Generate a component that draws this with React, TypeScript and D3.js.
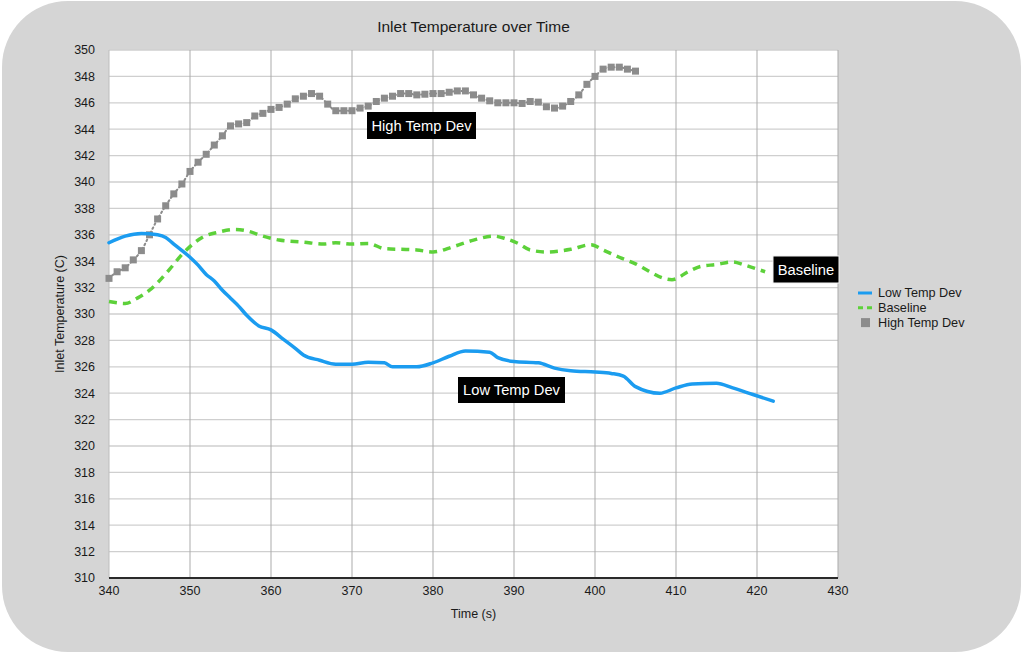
import React, { useEffect, useRef } from 'react';
import * as d3 from 'd3';

type Pt = [number, number];

const lowTempDev: Pt[] = [
  [340, 335.4], [342, 335.9], [344, 336.1], [346, 336.0], [347, 335.8], [348, 335.3],
  [350, 334.3], [351, 333.7], [352, 333.0], [353, 332.5], [354, 331.8], [355, 331.2],
  [356, 330.6], [357, 329.9], [358.5, 329.1], [360, 328.8], [361.5, 328.1], [363, 327.4],
  [364, 326.9], [366, 326.5], [368, 326.2], [370, 326.2], [372, 326.35], [374, 326.3],
  [375, 326.0], [378, 326.0], [380, 326.3], [382, 326.8], [384, 327.2], [387, 327.1],
  [388, 326.7], [390, 326.4], [393, 326.3], [395, 325.9], [397, 325.7], [400, 325.6],
  [402, 325.5], [403.5, 325.3], [405, 324.5], [408, 324.0], [410, 324.4], [412, 324.7],
  [415, 324.75], [417, 324.4], [419.5, 323.9], [422, 323.4]
];

const baseline: Pt[] = [
  [340, 330.95], [342, 330.8], [343.5, 331.2], [345, 331.8], [347.5, 333.4], [349, 334.5],
  [351.5, 335.8], [353.5, 336.2], [355.5, 336.4], [357, 336.3], [359, 335.9], [361, 335.6],
  [364, 335.45], [366.5, 335.3], [368, 335.4], [370, 335.3], [372, 335.35], [374, 334.95],
  [376, 334.9], [378, 334.85], [380, 334.7], [382.5, 335.1], [385, 335.6], [387.5, 335.9],
  [389, 335.7], [390.5, 335.35], [392, 334.85], [394, 334.7], [397, 334.9], [399.5, 335.25],
  [401, 334.85], [403, 334.3], [405, 333.8], [406.5, 333.3], [408.5, 332.7], [409.5, 332.6],
  [411.5, 333.2], [413, 333.6], [415, 333.75], [417, 333.95], [418.5, 333.7], [421, 333.2]
];

const highTempDev: Pt[] = [
  [340, 332.7], [341, 333.2], [342, 333.5], [343, 334.1], [344, 334.8], [345, 336.0],
  [346, 337.2], [347, 338.2], [348, 339.1], [349, 339.85], [350, 340.8], [351, 341.5],
  [352, 342.1], [353, 342.8], [354, 343.5], [355, 344.25], [356, 344.4], [357, 344.5],
  [358, 345.0], [359, 345.2], [360, 345.5], [361, 345.65], [362, 345.9], [363, 346.3],
  [364, 346.5], [365, 346.7], [366, 346.5], [367, 345.9], [368, 345.4], [369, 345.4],
  [370, 345.4], [371, 345.6], [372, 345.75], [373, 346.1], [374, 346.35], [375, 346.5],
  [376, 346.7], [377, 346.7], [378, 346.6], [379, 346.65], [380, 346.7], [381, 346.7],
  [382, 346.8], [383, 346.9], [384, 346.9], [385, 346.6], [386, 346.35], [387, 346.15],
  [388, 346.0], [389, 346.0], [390, 346.0], [391, 345.95], [392, 346.1], [393, 346.05],
  [394, 345.7], [395, 345.6], [396, 345.75], [397, 346.1], [398, 346.6], [399, 347.4],
  [400, 348.0], [401, 348.55], [402, 348.7], [403, 348.7], [404, 348.55], [405, 348.4]
];

const xTicks = [340, 350, 360, 370, 380, 390, 400, 410, 420, 430];
const yTicks = [310, 312, 314, 316, 318, 320, 322, 324, 326, 328, 330, 332, 334, 336, 338, 340, 342, 344, 346, 348, 350];

const legendItems = ['Low Temp Dev', 'Baseline', 'High Temp Dev'];

const BLUE = '#1b9cf0';
const GREEN = '#5dd13a';
const GREY = '#8c8c8c';
const FONT = 'Helvetica, "Liberation Sans", Arial, sans-serif';

const App: React.FC = () => {
  const svgRef = useRef<SVGSVGElement>(null);

  useEffect(() => {
    if (!svgRef.current) return;
    const svg = d3.select(svgRef.current);
    svg.selectAll('*').remove();

    const width = 1024;
    const height = 655;
    const left = 109, right = 838, top = 50, bottom = 578;

    const x = d3.scaleLinear().domain([340, 430]).range([left, right]);
    const y = d3.scaleLinear().domain([310, 350]).range([bottom, top]);

    // card background
    svg.append('rect')
      .attr('x', 2).attr('y', 1)
      .attr('width', width - 5).attr('height', height - 4)
      .attr('rx', 66).attr('ry', 66)
      .attr('fill', '#d5d5d5');

    // plot area
    svg.append('rect')
      .attr('x', left).attr('y', top)
      .attr('width', right - left).attr('height', bottom - top)
      .attr('fill', '#ffffff');

    // grid
    svg.append('g').selectAll('line')
      .data(yTicks.slice(1))
      .enter().append('line')
      .attr('x1', left).attr('x2', right)
      .attr('y1', d => y(d)).attr('y2', d => y(d))
      .attr('stroke', '#cfcfcf').attr('stroke-width', 1.3);

    svg.append('g').selectAll('line')
      .data(xTicks.slice(1))
      .enter().append('line')
      .attr('x1', d => x(d)).attr('x2', d => x(d))
      .attr('y1', top).attr('y2', bottom)
      .attr('stroke', '#ababab').attr('stroke-width', 1);

    svg.append('line')
      .attr('x1', left).attr('x2', left).attr('y1', top).attr('y2', bottom)
      .attr('stroke', '#bdbdbd').attr('stroke-width', 1);

    svg.append('line')
      .attr('x1', left).attr('x2', right).attr('y1', bottom).attr('y2', bottom)
      .attr('stroke', '#2a2a2a').attr('stroke-width', 2);

    // tick labels
    svg.append('g').selectAll('text')
      .data(yTicks)
      .enter().append('text')
      .attr('x', 95).attr('y', d => y(d))
      .attr('dy', '0.35em')
      .attr('text-anchor', 'end')
      .style('font-family', FONT).style('font-size', '12.5px').style('fill', '#1a1a1a')
      .text(d => d);

    svg.append('g').selectAll('text')
      .data(xTicks)
      .enter().append('text')
      .attr('x', d => x(d)).attr('y', 591)
      .attr('dy', '0.35em')
      .attr('text-anchor', 'middle')
      .style('font-family', FONT).style('font-size', '12.5px').style('fill', '#1a1a1a')
      .text(d => d);

    // titles
    svg.append('text')
      .attr('x', (left + right) / 2).attr('y', 27).attr('dy', '0.35em')
      .attr('text-anchor', 'middle')
      .style('font-family', FONT).style('font-size', '15.5px').style('fill', '#1a1a1a')
      .text('Inlet Temperature over Time');

    svg.append('text')
      .attr('x', (left + right) / 2).attr('y', 614).attr('dy', '0.35em')
      .attr('text-anchor', 'middle')
      .style('font-family', FONT).style('font-size', '12.5px').style('fill', '#1a1a1a')
      .text('Time (s)');

    svg.append('text')
      .attr('transform', `translate(60,${(top + bottom) / 2}) rotate(-90)`)
      .attr('dy', '0.35em')
      .attr('text-anchor', 'middle')
      .style('font-family', FONT).style('font-size', '12.5px').style('fill', '#1a1a1a')
      .text('Inlet Temperature (C)');

    const line = d3.line<Pt>()
      .x(d => x(d[0]))
      .y(d => y(d[1]))
      .curve(d3.curveMonotoneX);

    // high temp dev: dotted connector + square markers
    svg.append('path')
      .datum(highTempDev)
      .attr('d', line)
      .attr('fill', 'none')
      .attr('stroke', GREY)
      .attr('stroke-width', 2)
      .attr('stroke-dasharray', '1.5,3')
      .attr('stroke-linecap', 'round');

    svg.append('g').selectAll('rect')
      .data(highTempDev)
      .enter().append('rect')
      .attr('x', d => x(d[0]) - 3.5)
      .attr('y', d => y(d[1]) - 3.5)
      .attr('width', 7).attr('height', 7)
      .attr('fill', GREY);

    // baseline
    svg.append('path')
      .datum(baseline)
      .attr('d', line)
      .attr('fill', 'none')
      .attr('stroke', GREEN)
      .attr('stroke-width', 3.5)
      .attr('stroke-dasharray', '8,6');

    // low temp dev
    svg.append('path')
      .datum(lowTempDev)
      .attr('d', line)
      .attr('fill', 'none')
      .attr('stroke', BLUE)
      .attr('stroke-width', 3.5)
      .attr('stroke-linejoin', 'round')
      .attr('stroke-linecap', 'round');

    // annotation labels
    const notes = [
      { text: 'High Temp Dev', x: 367, y: 112, w: 109, h: 27, border: false },
      { text: 'Baseline', x: 773, y: 256, w: 66, h: 27, border: true },
      { text: 'Low Temp Dev', x: 458, y: 377, w: 107, h: 26, border: false }
    ];
    const noteG = svg.append('g').selectAll('g')
      .data(notes)
      .enter().append('g');
    noteG.append('rect')
      .attr('x', d => d.x).attr('y', d => d.y)
      .attr('width', d => d.w).attr('height', d => d.h)
      .attr('fill', '#000')
      .attr('stroke', d => d.border ? '#f2f2f2' : 'none')
      .attr('stroke-width', 1);
    noteG.append('text')
      .attr('x', d => d.x + d.w / 2).attr('y', d => d.y + d.h / 2)
      .attr('dy', '0.36em')
      .attr('text-anchor', 'middle')
      .style('font-family', FONT).style('font-size', '14.7px').style('fill', '#fff')
      .text(d => d.text);

    // legend
    const legend = svg.append('g').attr('transform', 'translate(858,293)');
    const li = legend.selectAll('g')
      .data(legendItems)
      .enter().append('g')
      .attr('transform', (d, i) => `translate(0,${i * 14.8})`);

    li.filter((d, i) => i === 0).append('line')
      .attr('x1', 0).attr('x2', 14).attr('y1', 0).attr('y2', 0)
      .attr('stroke', BLUE).attr('stroke-width', 3);
    li.filter((d, i) => i === 1).append('line')
      .attr('x1', 0).attr('x2', 14).attr('y1', 0).attr('y2', 0)
      .attr('stroke', GREEN).attr('stroke-width', 3)
      .attr('stroke-dasharray', '5,4');
    li.filter((d, i) => i === 2).append('rect')
      .attr('x', 3).attr('y', -4.5).attr('width', 9).attr('height', 9)
      .attr('fill', GREY);

    li.append('text')
      .attr('x', 20).attr('y', 0).attr('dy', '0.35em')
      .style('font-family', FONT).style('font-size', '12.7px').style('fill', '#1a1a1a')
      .text(d => d);
  }, []);

  return (
    <svg
      ref={svgRef}
      width={1024}
      height={655}
      style={{ position: 'absolute', left: 0, top: 0, background: '#fff' }}
    />
  );
};

export default App;
